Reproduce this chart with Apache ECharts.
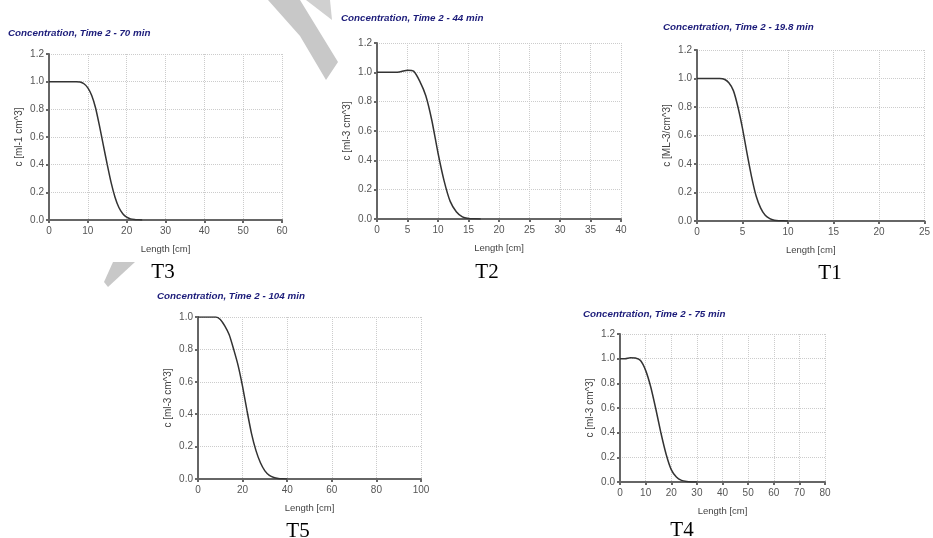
<!DOCTYPE html>
<html>
<head>
<meta charset="utf-8">
<script src="https://cdn.jsdelivr.net/npm/echarts@6/dist/echarts.min.js"></script>
<style>
html,body{margin:0;padding:0;background:#fff;}
#main{width:933px;height:538px;}
</style>
</head>
<body>
<div id="main"></div>
<script>
// T3 - 70 min
var t3X = [0,1,2,3,4,5,6,7,8,9,10,11,12,13,14,15,16,17,18,19,20,21,22,23,24];
var t3Y = [1,1,1,1,1,1,1,1,0.998,0.985,0.955,0.9,0.81,0.68,0.54,0.4,0.27,0.165,0.09,0.045,0.02,0.008,0.003,0.001,0];
// T2 - 44 min
var t2X = [0,1,2,3,4,5,6,7,8,9,10,11,12,13,14,15,16,17];
var t2Y = [1,1,1,1,1.006,1.015,1.008,0.94,0.84,0.67,0.45,0.26,0.12,0.05,0.015,0.004,0.001,0];
// T1 - 19.8 min
var t1X = [0,0.5,1,1.5,2,2.5,3,3.5,4,4.5,5,5.5,6,6.5,7,7.5,8,8.5,9,9.5,10];
var t1Y = [1,1,1,1,1,1,0.995,0.97,0.915,0.8,0.65,0.475,0.31,0.175,0.09,0.04,0.017,0.006,0.002,0.001,0];
// T5 - 104 min
var t5X = [0,2,4,6,8,10,12,14,16,18,20,22,24,26,28,30,32,34,36,38,40];
var t5Y = [1,1,1,1,1,0.985,0.945,0.89,0.8,0.7,0.57,0.42,0.28,0.175,0.1,0.05,0.022,0.009,0.003,0.001,0];
// T4 - 75 min
var t4X = [0,2,4,6,8,10,12,14,16,18,20,22,24,26,28,30];
var t4Y = [1,1,1.008,1.005,0.985,0.905,0.77,0.59,0.395,0.225,0.1,0.04,0.013,0.004,0.001,0];

var titles = ["Concentration, Time 2 - 70 min","Concentration, Time 2 - 44 min","Concentration, Time 2 - 19.8 min","Concentration, Time 2 - 104 min","Concentration, Time 2 - 75 min"];
var yNames = ["c [ml-1 cm^3]","c [ml-3 cm^3]","c [ML-3/cm^3]","c [ml-3 cm^3]","c [ml-3 cm^3]"];
var panelLabels = ["T3","T2","T1","T5","T4"];
var xMax = [60,40,25,100,80];
var xStep = [10,5,5,20,10];
var yMax = [1.2,1.2,1.2,1.0,1.2];

// plot boxes in pixels: left, top, right edge, bottom edge
var boxes = [
    [49,54,282,220],
    [377,43,621,219],
    [697,50,936,221],
    [198,317,421,479],
    [620,334,825,482]
];
var titlePos = [[8,28],[341,13],[663,22],[157,291],[583,309]];
var labelPos = [[163,272],[487,272],[830,273],[298,531],[682,530]];
var xs = [t3X,t2X,t1X,t5X,t4X];
var ys = [t3Y,t2Y,t1Y,t5Y,t4Y];

var grids = [], xAxes = [], yAxes = [], series = [], titleArr = [], graphics = [];
for (var i = 0; i < 5; i++) {
    var b = boxes[i];
    grids.push({left:b[0], top:b[1], width:b[2]-b[0], height:b[3]-b[1], containLabel:false});
    xAxes.push({
        type:'value', gridIndex:i, min:0, max:xMax[i], interval:xStep[i],
        name:'Length [cm]', nameLocation:'middle', nameGap:24,
        nameTextStyle:{color:'#444', fontSize:9.5, fontFamily:'Liberation Sans'},
        axisLine:{lineStyle:{color:'#666', width:2}},
        axisTick:{show:true, length:3, lineStyle:{color:'#666', width:2}},
        axisLabel:{color:'#555', fontSize:10, margin:6, fontFamily:'Liberation Sans'},
        splitLine:{show:true, lineStyle:{color:'#ccc', type:'dotted', width:1}}
    });
    yAxes.push({
        type:'value', gridIndex:i, min:0, max:yMax[i], interval:0.2,
        name:yNames[i], nameLocation:'middle', nameGap:25, nameRotate:90,
        nameTextStyle:{color:'#444', fontSize:10, fontFamily:'Liberation Sans'},
        axisLine:{show:true, lineStyle:{color:'#666', width:2}},
        axisTick:{show:true, length:3, lineStyle:{color:'#666', width:2}},
        axisLabel:{color:'#555', fontSize:10, margin:5, fontFamily:'Liberation Sans',
            formatter:function(v){return v.toFixed(1);}},
        splitLine:{show:true, lineStyle:{color:'#ccc', type:'dotted', width:1}}
    });
    var pts = [];
    for (var k = 0; k < xs[i].length; k++) pts.push([xs[i][k], ys[i][k]]);
    series.push({
        type:'line', xAxisIndex:i, yAxisIndex:i, data:pts, smooth:0.2,
        showSymbol:false, silent:true,
        lineStyle:{color:'#333', width:1.5}
    });
    titleArr.push({
        text:titles[i], left:titlePos[i][0], top:titlePos[i][1], padding:0,
        textStyle:{color:'#1c1c7a', fontSize:9.8, fontWeight:'bold', fontStyle:'italic', fontFamily:'Liberation Sans'}
    });
    graphics.push({
        type:'text', x:labelPos[i][0], y:labelPos[i][1],
        style:{text:panelLabels[i], fill:'#000', font:'21px "Liberation Serif"', textAlign:'center', textVerticalAlign:'middle'}
    });
}
// grey watermark shapes
graphics.push({type:'polygon', shape:{points:[[268,0],[300,0],[338,62],[326,80],[300,36]]}, style:{fill:'#c8c8c8'}});
graphics.push({type:'polygon', shape:{points:[[306,0],[330,0],[332,20]]}, style:{fill:'#d0d0d0'}});
graphics.push({type:'polygon', shape:{points:[[113,262],[135,262],[108,287],[104,282]]}, style:{fill:'#c8c8c8'}});

var option = {
    backgroundColor:'#fff',
    animation:false,
    title:titleArr,
    grid:grids,
    xAxis:xAxes,
    yAxis:yAxes,
    series:series,
    graphic:graphics
};
var chart = echarts.init(document.getElementById('main'));
chart.setOption(option);
</script>
</body>
</html>
